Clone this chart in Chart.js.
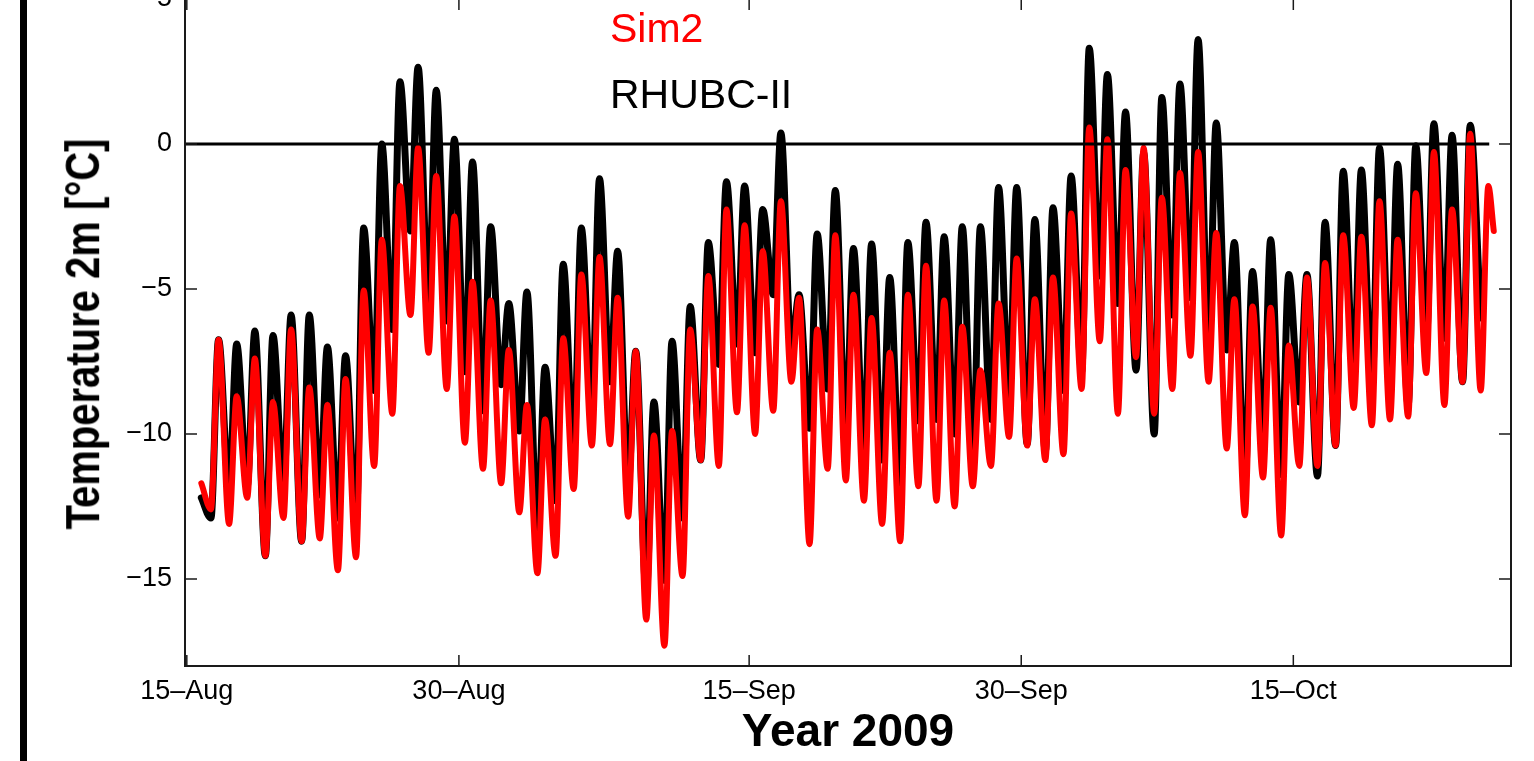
<!DOCTYPE html>
<html>
<head>
<meta charset="utf-8">
<script src="https://cdn.jsdelivr.net/npm/chart.js@4.4.1/dist/chart.umd.min.js"></script>
<style>
  body { margin: 0; background: #fff; width: 1534px; height: 761px; overflow: hidden; position: relative; font-family: "Liberation Sans", Arial, sans-serif; }
  #frame { position: absolute; left: 20px; top: 0; width: 7px; height: 761px; background: #000; }
  #wrap { position: absolute; left: 0; top: -20px; width: 1534px; height: 781px; }
  .lbl { position: absolute; white-space: nowrap; line-height: 1; }
</style>
</head>
<body>
<div id="frame"></div>
<div id="wrap"><canvas id="c"></canvas></div>
<div class="lbl" style="left:610px; top:8px; font-size:41px; color:#f00;">Sim2</div>
<div class="lbl" style="left:610px; top:74px; font-size:41px; color:#000;">RHUBC-II</div>
<div class="lbl" style="left:848px; top:707px; font-size:46px; font-weight:bold; transform:translateX(-50%);">Year 2009</div>
<div class="lbl" style="left:82px; top:334px; font-size:40px; font-weight:bold; transform:translate(-50%,-50%) rotate(-90deg) scaleY(1.22);">Temperature 2m [°C]</div>
<script>
// x axis: days since 15 Aug 2009
var tickDays = [0, 15, 31, 46, 61];
var tickLabels = ['15\u2013Aug', '30\u2013Aug', '15\u2013Sep', '30\u2013Sep', '15\u2013Oct'];
var yTicks = [-15, -10, -5, 0, 5];

// daily minimum (early in the day) and maximum (late afternoon), day 1 = 16 Aug
var obsTroughs = [-12.9, -11.9, -11.8, -14.2, -11.8, -13.7, -12.1, -12.9, -13.1, -8.5,
  -6.4, -3.0, -5.5, -6.1, -7.85, -9.2, -8.3, -9.9, -13.3, -12.3,
  -10.6, -9.3, -8.2, -11.75, -15.5, -15.05, -12.9, -10.9, -7.6, -6.9,
  -7.2, -5.2, -7.1, -9.8, -8.45, -10.0, -10.5, -10.9, -11.7, -9.55,
  -9.5, -10.0, -11.2, -9.5, -8.7, -10.35, -10.6, -8.5, -7.85, -4.55,
  -5.5, -7.8, -10.0, -5.9, -5.3, -6.9, -7.1, -11.7, -10.2, -11.4,
  -8.9, -11.45, -10.4, -8.1, -8.4, -8.0, -9.0, -6.75, -6.7, -8.2, -6.0];
var obsPeaks = [-6.75, -6.9, -6.45, -6.6, -5.9, -5.9, -7.0, -7.3, -2.9, 0.0,
  2.15, 2.65, 1.85, 0.16, -0.62, -2.85, -5.5, -5.1, -7.7, -4.15,
  -2.9, -1.2, -3.7, -7.15, -8.9, -6.8, -5.6, -3.4, -1.3, -1.45,
  -2.26, 0.38, -5.2, -3.1, -1.6, -3.6, -3.45, -4.6, -3.4, -2.7,
  -3.2, -2.85, -2.85, -1.5, -1.5, -2.6, -2.2, -1.1, 3.3, 2.4,
  1.1, -0.3, 1.6, 2.07, 3.6, 0.72, -3.4, -4.4, -3.3, -4.5,
  -4.5, -2.7, -0.94, -0.9, -0.13, -0.7, -0.06, 0.7, 0.3, 0.65];
var simTroughs = [-12.6, -13.1, -12.2, -14.2, -12.9, -13.7, -13.6, -14.7, -14.25, -11.1,
  -9.3, -5.9, -7.2, -8.45, -10.3, -11.2, -11.7, -12.7, -14.8, -14.2,
  -11.9, -10.4, -10.35, -12.85, -16.4, -17.3, -14.9, -10.9, -11.1, -9.25,
  -10.0, -9.2, -8.2, -13.8, -11.2, -11.6, -12.3, -13.1, -13.7, -11.8,
  -12.3, -12.5, -11.8, -11.1, -10.1, -10.4, -10.9, -10.7, -8.45, -6.8,
  -9.3, -7.35, -9.3, -8.45, -7.3, -8.2, -10.5, -12.8, -11.5, -13.5,
  -11.1, -11.1, -10.4, -9.1, -9.7, -9.5, -9.4, -7.9, -9.0, -8.2, -8.5];
var simPeaks = [-6.75, -8.7, -7.4, -8.9, -6.4, -8.4, -9.0, -8.1, -5.05, -3.3,
  -1.45, -0.13, -1.1, -2.5, -4.75, -5.4, -7.1, -9.0, -9.5, -6.7,
  -4.5, -3.9, -5.3, -7.15, -10.05, -9.9, -6.4, -4.55, -2.26, -2.8,
  -3.7, -1.97, -5.3, -6.4, -3.15, -5.2, -6.0, -7.2, -5.2, -4.2,
  -5.4, -6.3, -7.8, -5.5, -3.95, -5.35, -4.6, -2.4, 0.57, 0.16,
  -0.9, -0.13, -1.85, -1.0, -0.28, -3.07, -5.35, -5.6, -5.65, -6.95,
  -4.6, -4.1, -3.15, -3.2, -1.97, -3.3, -1.7, -0.28, -2.26, 0.35, -1.45];
var obsStart = -12.2, simStart = -11.7, simEnd = -3.0;
var zeroLineDays = [-0.1, 71.8];

function buildSeries(start, troughs, peaks, end) {
  var pts = [{x: 0.8, y: start}];
  for (var i = 0; i < troughs.length; i++) {
    pts.push({x: i + 1.33, y: troughs[i]});
    if (i < peaks.length) pts.push({x: i + 1.75, y: peaks[i]});
  }
  if (end !== undefined) pts.push({x: 72.05, y: end});
  return pts;
}

var boxPlugin = {
  id: 'matlabBox',
  afterDatasetsDraw: function(chart) {
    var ctx = chart.ctx, a = chart.chartArea, x = chart.scales.x, y = chart.scales.y;
    ctx.save();
    ctx.strokeStyle = '#1a1a1a';
    ctx.lineWidth = 2;
    ctx.strokeRect(a.left, a.top, a.right - a.left, a.bottom - a.top);
    ctx.lineWidth = 1.5;
    ctx.beginPath();
    tickDays.forEach(function(d) {
      var px = x.getPixelForValue(d);
      ctx.moveTo(px, a.bottom); ctx.lineTo(px, a.bottom - 11);
      ctx.moveTo(px, a.top); ctx.lineTo(px, a.top + 11);
    });
    yTicks.forEach(function(v) {
      var py = y.getPixelForValue(v);
      ctx.moveTo(a.left, py); ctx.lineTo(a.left + 12, py);
      ctx.moveTo(a.right, py); ctx.lineTo(a.right - 12, py);
    });
    ctx.stroke();
    ctx.restore();
  }
};

var tickFont = {family: '"Liberation Sans", Arial, sans-serif', size: 27};

new Chart(document.getElementById('c'), {
  type: 'line',
  data: {
    datasets: [
      {
        label: 'zero',
        data: zeroLineDays.map(function(d) { return {x: d, y: 0}; }),
        borderColor: '#000', borderWidth: 3, pointRadius: 0, order: 0
      },
      {
        label: 'Sim2',
        data: buildSeries(simStart, simTroughs, simPeaks, simEnd),
        borderColor: '#ff0000', borderWidth: 6, pointRadius: 0,
        cubicInterpolationMode: 'monotone', borderJoinStyle: 'round', borderCapStyle: 'round', order: 1
      },
      {
        label: 'RHUBC-II',
        data: buildSeries(obsStart, obsTroughs, obsPeaks),
        borderColor: '#000', borderWidth: 7, pointRadius: 0,
        cubicInterpolationMode: 'monotone', borderJoinStyle: 'round', borderCapStyle: 'round', order: 2
      }
    ]
  },
  options: {
    responsive: true,
    maintainAspectRatio: false,
    animation: false,
    layout: {padding: {top: 19, right: 23, left: 0, bottom: 0}},
    plugins: {legend: {display: false}, tooltip: {enabled: false}},
    scales: {
      x: {
        type: 'linear', min: -0.1, max: 73.0,
        grid: {display: false, drawTicks: false},
        border: {display: false},
        afterBuildTicks: function(s) { s.ticks = tickDays.map(function(d) { return {value: d}; }); },
        afterFit: function(s) { s.height = 95; s.paddingLeft = 0; s.paddingRight = 0; },
        ticks: {
          font: tickFont, color: '#000', padding: 9, maxRotation: 0, autoSkip: false,
          callback: function(v) { return tickLabels[tickDays.indexOf(v)]; }
        }
      },
      y: {
        min: -18, max: 5,
        grid: {display: false, drawTicks: false},
        border: {display: false},
        afterBuildTicks: function(s) { s.ticks = yTicks.map(function(v) { return {value: v}; }); },
        afterFit: function(s) { s.width = 185; s.paddingTop = 0; s.paddingBottom = 0; },
        ticks: {
          font: tickFont, color: '#000', padding: 13,
          callback: function(v) { return v < 0 ? '\u2212' + Math.abs(v) : String(v); }
        }
      }
    }
  },
  plugins: [boxPlugin]
});
</script>
</body>
</html>
